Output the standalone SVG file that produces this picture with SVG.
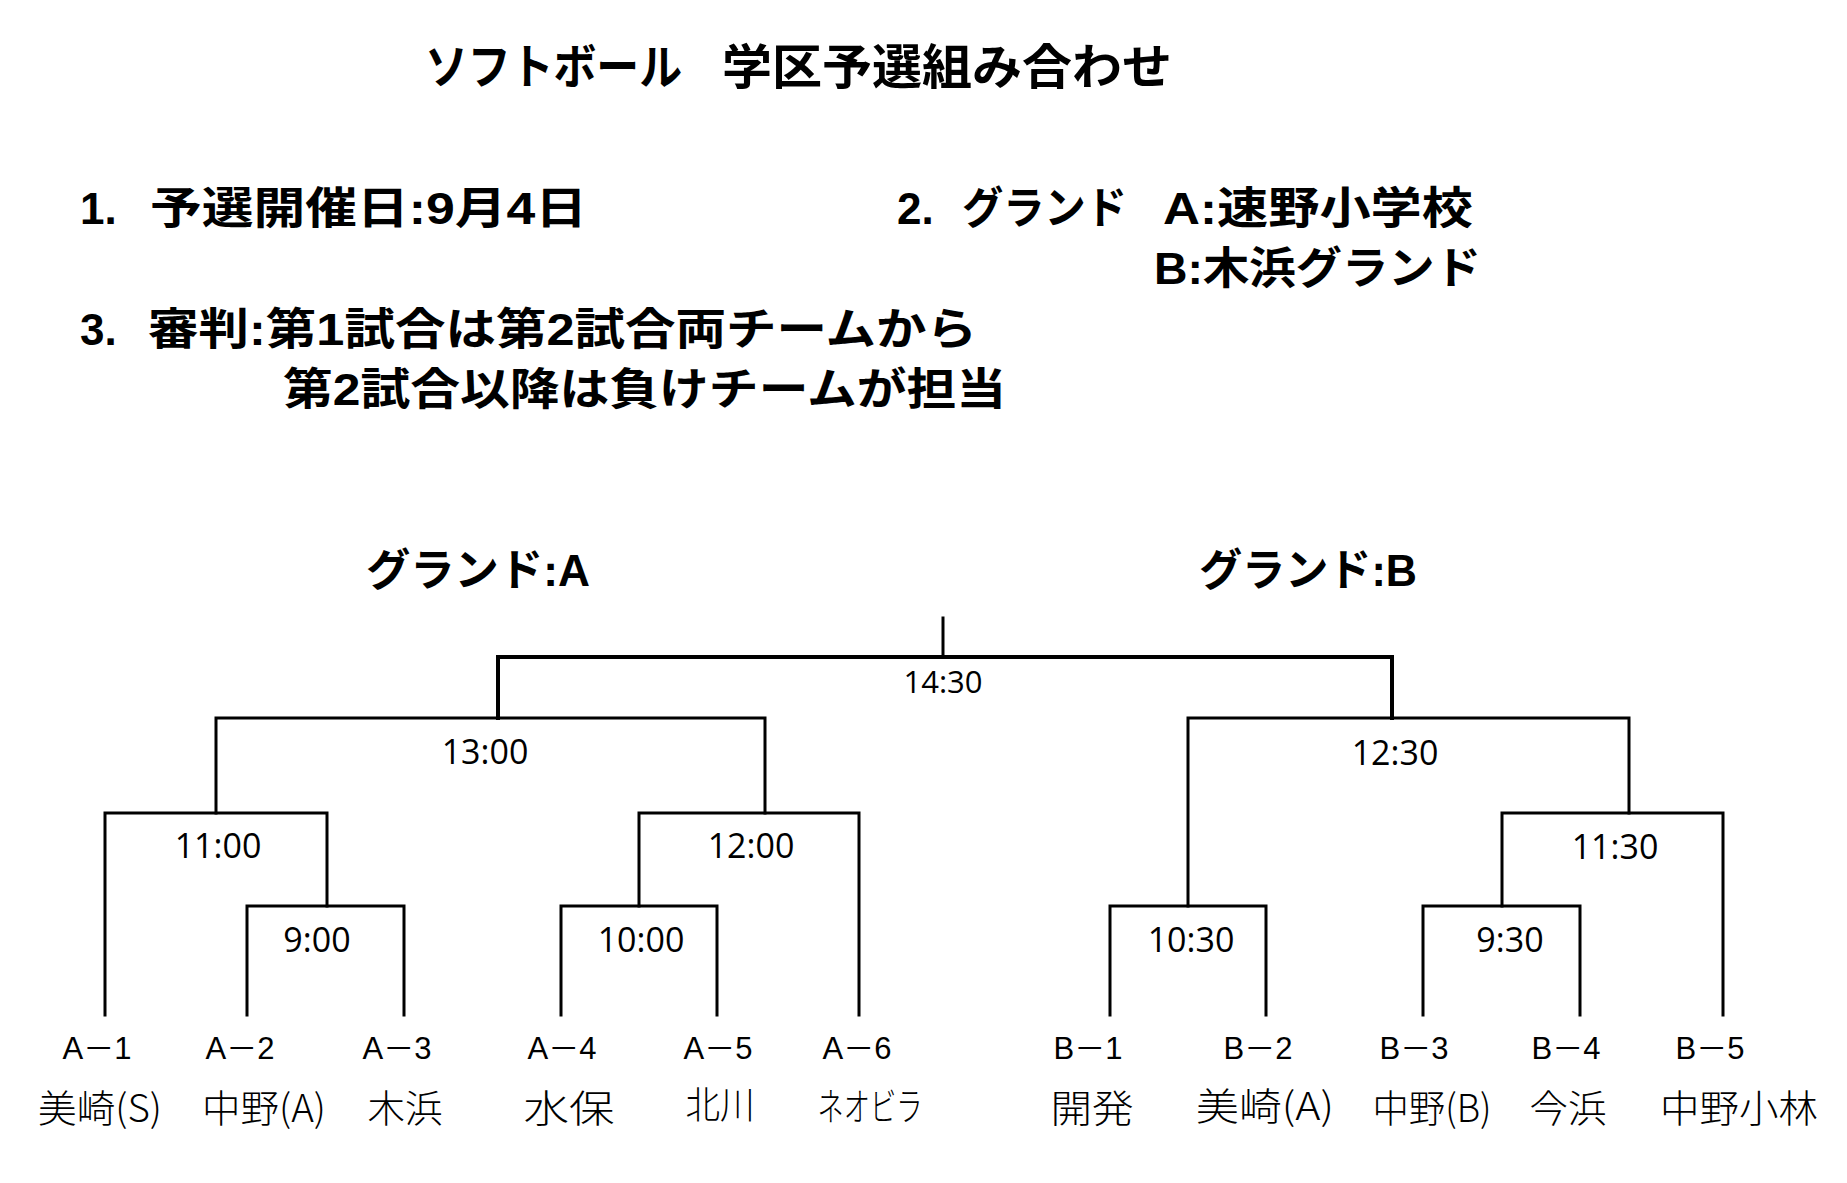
<svg xmlns="http://www.w3.org/2000/svg" width="1847" height="1183" viewBox="0 0 1847 1183">
  <style>
    .hd { font-family: "Liberation Sans", "Noto Sans CJK JP", sans-serif; font-weight: bold; fill: #000; }
    .title { font-size: 48px; }
    .body { font-size: 44px; }
    .time { font-family: "Open Sans", "Liberation Sans", sans-serif; font-size: 34px; fill: #000; text-anchor: middle; }
    .final { font-size: 31px; }
    .code { font-family: "Liberation Sans", "Noto Sans CJK JP", sans-serif; font-size: 31px; fill: #000; text-anchor: middle; }
    .team { font-family: "Noto Sans CJK JP", sans-serif; font-size: 38px; font-weight: 300; fill: #000; text-anchor: middle; }
    .ln { fill: none; stroke: #000; stroke-width: 3; stroke-linecap: square; }
    .top { stroke-width: 4; }
  </style>
  <rect width="1847" height="1183" fill="#fff"/>

  <g id="header">
    <text class="hd title" x="425" y="84" textLength="257" lengthAdjust="spacingAndGlyphs">ソフトボール</text>
    <text class="hd title" x="722" y="84" textLength="450" lengthAdjust="spacingAndGlyphs">学区予選組み合わせ</text>
    <text class="hd body" x="80" y="224">1.</text>
    <text class="hd body" x="150" y="224" textLength="437" lengthAdjust="spacingAndGlyphs">予選開催日:9月4日</text>
    <text class="hd body" x="897" y="224">2.</text>
    <text class="hd body" x="962" y="224" textLength="165" lengthAdjust="spacingAndGlyphs">グランド</text>
    <text class="hd body" x="1163" y="224" textLength="310" lengthAdjust="spacingAndGlyphs">A:速野小学校</text>
    <text class="hd body" x="1154" y="284" textLength="327" lengthAdjust="spacingAndGlyphs">B:木浜グランド</text>
    <text class="hd body" x="80" y="345">3.</text>
    <text class="hd body" x="148" y="345" textLength="829" lengthAdjust="spacingAndGlyphs">審判:第1試合は第2試合両チームから</text>
    <text class="hd body" x="283" y="405" textLength="723" lengthAdjust="spacingAndGlyphs">第2試合以降は負けチームが担当</text>
    <text class="hd body" x="366" y="586" textLength="224" lengthAdjust="spacingAndGlyphs">グランド:A</text>
    <text class="hd body" x="1199" y="586" textLength="218" lengthAdjust="spacingAndGlyphs">グランド:B</text>
  </g>

  <g id="connectors">
    <path class="ln" d="M943,618 V657"/>
    <path class="ln top" d="M498,718 V657 H1392 V718"/>
    <path class="ln" d="M216,813 V718 H765 V813"/>
    <path class="ln" d="M1188,906 V718 H1629 V813"/>
    <path class="ln" d="M105,1015 V813 H327 V906"/>
    <path class="ln" d="M639,906 V813 H859 V1015"/>
    <path class="ln" d="M1502,906 V813 H1723 V1015"/>
    <path class="ln" d="M247,1015 V906 H404 V1015"/>
    <path class="ln" d="M561,1015 V906 H717 V1015"/>
    <path class="ln" d="M1110,1015 V906 H1266 V1015"/>
    <path class="ln" d="M1423,1015 V906 H1580 V1015"/>
  </g>

  <g id="match-final"><text class="time final" x="943" y="693">14:30</text></g>
  <g id="match-1300"><text class="time" x="485" y="764">13:00</text></g>
  <g id="match-1230"><text class="time" x="1395" y="765">12:30</text></g>
  <g id="match-1100"><text class="time" x="218" y="858">11:00</text></g>
  <g id="match-1200"><text class="time" x="751" y="858">12:00</text></g>
  <g id="match-1130"><text class="time" x="1615" y="859">11:30</text></g>
  <g id="match-0900"><text class="time" x="317" y="952">9:00</text></g>
  <g id="match-1000"><text class="time" x="641" y="952">10:00</text></g>
  <g id="match-1030"><text class="time" x="1191" y="952">10:30</text></g>
  <g id="match-0930"><text class="time" x="1510" y="952">9:30</text></g>

  <g id="team-A1"><text class="code" x="97" y="1059">A－1</text><text class="team" x="100" y="1122" textLength="124" lengthAdjust="spacingAndGlyphs">美崎(S)</text></g>
  <g id="team-A2"><text class="code" x="240" y="1059">A－2</text><text class="team" x="264" y="1122" textLength="124" lengthAdjust="spacingAndGlyphs">中野(A)</text></g>
  <g id="team-A3"><text class="code" x="397" y="1059">A－3</text><text class="team" x="405" y="1122" textLength="75" lengthAdjust="spacingAndGlyphs">木浜</text></g>
  <g id="team-A4"><text class="code" x="562" y="1059">A－4</text><text class="team" x="569" y="1122" textLength="91" lengthAdjust="spacingAndGlyphs">水保</text></g>
  <g id="team-A5"><text class="code" x="718" y="1059">A－5</text><text class="team" x="720" y="1118" textLength="69" lengthAdjust="spacingAndGlyphs">北川</text></g>
  <g id="team-A6"><text class="code" x="857" y="1059">A－6</text><text class="team" x="870" y="1120" textLength="105" lengthAdjust="spacingAndGlyphs">ネオビラ</text></g>
  <g id="team-B1"><text class="code" x="1088" y="1059">B－1</text><text class="team" x="1092" y="1122" textLength="83" lengthAdjust="spacingAndGlyphs">開発</text></g>
  <g id="team-B2"><text class="code" x="1258" y="1059">B－2</text><text class="team" x="1265" y="1120" textLength="138" lengthAdjust="spacingAndGlyphs">美崎(A)</text></g>
  <g id="team-B3"><text class="code" x="1414" y="1059">B－3</text><text class="team" x="1432" y="1122" textLength="119" lengthAdjust="spacingAndGlyphs">中野(B)</text></g>
  <g id="team-B4"><text class="code" x="1566" y="1059">B－4</text><text class="team" x="1568" y="1122" textLength="77" lengthAdjust="spacingAndGlyphs">今浜</text></g>
  <g id="team-B5"><text class="code" x="1710" y="1059">B－5</text><text class="team" x="1739" y="1122" textLength="158" lengthAdjust="spacingAndGlyphs">中野小林</text></g>
</svg>
